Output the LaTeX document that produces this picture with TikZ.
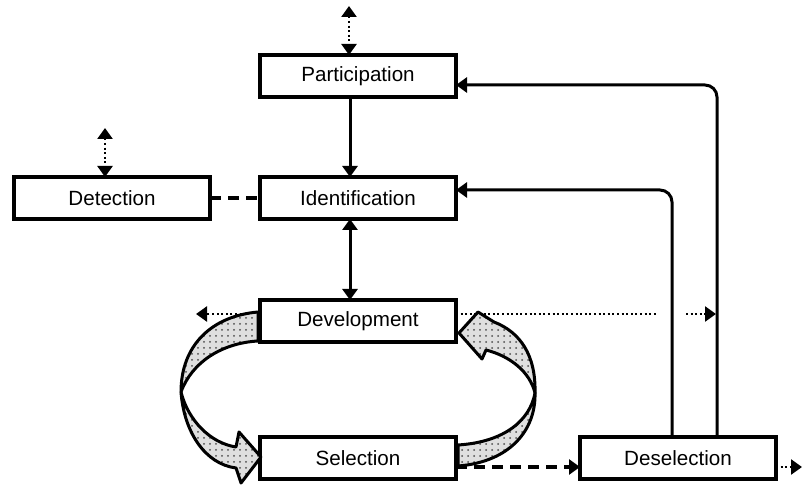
\documentclass[tikz,border=0pt]{standalone}
\usepackage{fontspec}
\setmainfont{Liberation Sans}
\usetikzlibrary{arrows.meta,patterns}

\begin{document}
\begin{tikzpicture}[x=0.5pt,y=-0.5pt,
        box/.style={draw,line width=2pt,minimum width=98pt,minimum height=21pt,
        outer sep=0pt,font=\fontsize{10.3}{12}\selectfont},
        tip/.style={-{Triangle[length=5.5pt,width=7.5pt]}},
        twotip/.style={{Triangle[length=5.5pt,width=7.5pt]}-{Triangle[length=5.5pt,width=7.5pt]}},
        link/.style={line width=1.5pt,tip},
        dotlink/.style={line width=1.2pt,dash pattern=on 1pt off 1.3pt,tip},
        dashlink/.style={line width=1.6pt,dash pattern=on 5.5pt off 3.5pt},
        fat/.style={draw,line width=1.5pt,line join=round,
        preaction={fill=gray!25},pattern=dots,pattern color=gray!60!black}]
        \useasboundingbox (0,0) rectangle (803,486);

        % boxes
        \node[box] (part) at (358,76) {Participation};
        \node[box] (ident) at (358,198) {Identification};
        \node[box] (detect) at (112,198) {Detection};
        \node[box] (devel) at (358,321) {Development};
        \node[box] (select) at (358,458) {Selection};
        \node[box] (desel) at (678,458) {Deselection};

        % free ends
        \coordinate (parttop) at (349,6);
        \coordinate (dettop) at (105,128);
        \coordinate (devleft) at (196,314);
        \coordinate (devright) at (716,314);
        \coordinate (deselout) at (802,467);

        % vertical links
        \draw[dotlink,twotip] (parttop) -- (parttop |- part.north);
        \draw[dotlink,twotip] (dettop) -- (dettop |- detect.north);
        \draw[link] ([xshift=-4pt]part.south) -- ([xshift=-4pt]ident.north);
        \draw[link,twotip] ([xshift=-4pt]ident.south) -- ([xshift=-4pt]devel.north);
        \draw[dashlink] (detect) -- (ident);

        % dotted exits
        \draw[dotlink] ([yshift=3.5pt]devel.west) -- (devleft);
        \draw[dotlink] ([yshift=3.5pt]devel.east) -- (devright);
        \fill[white] (656,308) rectangle (686,320);
        \draw[dotlink] ([yshift=-4.5pt]desel.east) -- (deselout);

        % back links
        \draw[link,rounded corners=6pt] ([xshift=19.5pt]desel.north) |- ([yshift=-4.5pt]part.east);
        \draw[link,rounded corners=6pt] ([xshift=-3pt]desel.north) |- ([yshift=4pt]ident.east);
        \draw[dashlink,tip] ([yshift=-4.5pt]select.east) -- ([yshift=-4.5pt]desel.west);

        % cycle arrows
        \draw[fat] (258,312) .. controls (212,316) and (181,345) .. (181,392)
            .. controls (192,362) and (222,343) .. (258,341) -- cycle;
        \draw[fat] (181,392) .. controls (184,432) and (205,464) .. (236,468)
            -- (241,483) -- (261,457) -- (239,432) -- (236,447)
            .. controls (210,443) and (188,420) .. (181,392) -- cycle;
        \draw[fat] (458,445) .. controls (505,442) and (530,420) .. (535,393)
            .. controls (536,430) and (510,462) .. (458,466) -- cycle;
        \draw[fat] (535,393) .. controls (536,355) and (520,332) .. (494,322)
            -- (478,312) -- (459,333) -- (482,359) -- (486,350)
            .. controls (510,356) and (530,372) .. (535,393) -- cycle;
\end{tikzpicture}
\end{document}
